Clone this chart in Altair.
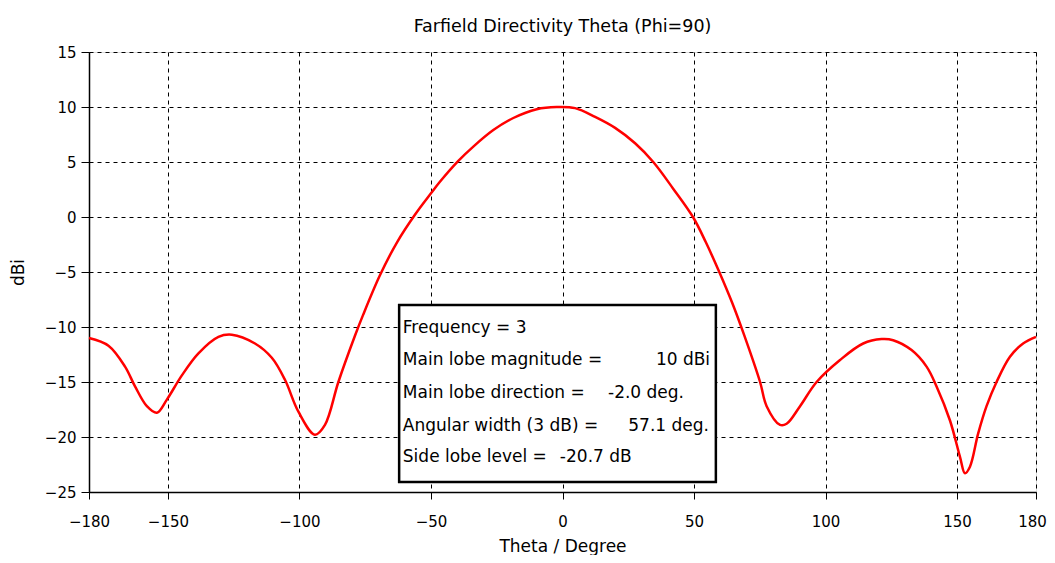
import altair as alt
import pandas as pd

# Curve samples (theta in degrees, directivity in dBi)
theta = [-180, -172.6, -166.3, -162.5, -158.0, -154.2, -150.4, -144.7, -138.4, -130.8, -125.7,
         -116.9, -110.5, -105.5, -100.4, -94.1, -90.3, -85.2, -78.9, -75.8, -69.4, -62.9, -56.1,
         -50.0, -46.6, -39.6, -33.9, -26.3, -18.7, -9.8, -2.2, 4.8, 12.4, 20.0, 27.6, 34.5, 42.0,
         49.6, 54.5, 59.6, 64.5, 69.0, 75.1, 77.6, 82.7, 85.2, 90.3, 96.6, 105.5, 114.3, 121.3,
         125.7, 132.7, 138.4, 142.2, 147.3, 151.1, 153.0, 154.9, 158.0, 161.2, 165.0, 170.1,
         175.1, 180]
dbi = [-11.0, -11.7, -13.6, -15.4, -17.2, -17.8, -16.6, -14.4, -12.4, -10.9, -10.7,
       -11.5, -12.8, -14.8, -17.7, -19.8, -18.9, -15.0, -10.8, -8.9, -5.3, -2.3, 0.2,
       2.15, 3.2, 5.1, 6.4, 7.9, 9.0, 9.8, 10.0, 9.9, 9.1, 8.1, 6.7, 5.0, 2.6,
       0.0, -2.3, -5.0, -7.8, -10.7, -15.0, -17.2, -18.9, -18.8, -17.2, -15.0, -13.0, -11.5, -11.1,
       -11.2, -12.1, -13.6, -15.4, -18.5, -21.8, -23.3, -22.7, -19.7, -17.2, -15.0, -12.7,
       -11.5, -10.9]

x_ticks = [-180, -150, -100, -50, 0, 50, 100, 150, 180]
y_ticks = [15, 10, 5, 0, -5, -10, -15, -20, -25]

info_labels = ["Frequency = 3", "Main lobe magnitude =", "Main lobe direction =",
               "Angular width (3 dB) =", "Side lobe level ="]
info_values = ["", "10 dBi", "-2.0 deg.", "57.1 deg.", "-20.7 dB"]
info_rows_y = [-10.1, -13.0, -16.0, -19.0, -21.8]
info_label_x = [-60.7, -60.7, -60.7, -60.7, -60.7]
info_value_x = [35.5, 35.5, 17.3, 25.0, -1.0]
box = {"x": [-62.1], "x2": [58.3], "y": [-8.0], "y2": [-24.1]}

FONT = "DejaVu Sans"

curve_df = pd.DataFrame({"theta": theta, "dbi": dbi})
lab_df = pd.DataFrame({"x": info_label_x, "y": info_rows_y, "t": info_labels})
val_df = pd.DataFrame({"x": info_value_x, "y": info_rows_y, "t": info_values})
box_df = pd.DataFrame(box)

xscale = alt.Scale(domain=[-180, 180], nice=False, zero=False)
yscale = alt.Scale(domain=[-25, 15], nice=False, zero=False)

xaxis = alt.Axis(values=x_ticks, title="Theta / Degree", grid=True, gridDash=[4, 4],
                 gridColor="black", gridOpacity=1, gridWidth=1,
                 domainColor="black", domainWidth=1.5, tickColor="black", tickSize=7,
                 labelFont=FONT, labelFontSize=15, labelColor="black", labelPadding=15,
                 labelOffset={"condition": {"test": "datum.value == 180", "value": -4}, "value": 0},
                 titleFont=FONT, titleFontSize=17, titleFontWeight="normal", titleColor="black",
                 titlePadding=9, labelFlush=False)
yaxis = alt.Axis(values=y_ticks, title="dBi", grid=True, gridDash=[4, 4],
                 gridColor="black", gridOpacity=1, gridWidth=1,
                 domainColor="black", domainWidth=1.5, tickColor="black", tickSize=8,
                 labelFont=FONT, labelFontSize=15, labelColor="black", labelPadding=5,
                 titleFont=FONT, titleFontSize=17, titleFontWeight="normal", titleColor="black",
                 titlePadding=17, labelFlush=False)

line = alt.Chart(curve_df).mark_line(color="#ff0000", strokeWidth=2.5,
                                     interpolate="catmull-rom").encode(
    x=alt.X("theta:Q", scale=xscale, axis=xaxis),
    y=alt.Y("dbi:Q", scale=yscale, axis=yaxis),
)

rect = alt.Chart(box_df).mark_rect(fill="white", stroke="black", strokeWidth=2.5).encode(
    x=alt.X("x:Q", scale=xscale), x2="x2:Q",
    y=alt.Y("y:Q", scale=yscale), y2="y2:Q",
)

labels = alt.Chart(lab_df).mark_text(align="left", baseline="middle", font=FONT, fontSize=17,
                                     color="black").encode(
    x=alt.X("x:Q", scale=xscale), y=alt.Y("y:Q", scale=yscale), text="t:N")
values = alt.Chart(val_df).mark_text(align="left", baseline="middle", font=FONT, fontSize=17,
                                     color="black").encode(
    x=alt.X("x:Q", scale=xscale), y=alt.Y("y:Q", scale=yscale), text="t:N")

chart = alt.layer(line, rect, labels, values).properties(
    width=947, height=440,
    title=alt.TitleParams("Farfield Directivity Theta (Phi=90)", font=FONT, fontSize=17.5,
                          fontWeight="normal", color="black", offset=10),
    autosize=alt.AutoSizeParams(type="none"),
    padding={"left": 81, "top": 44, "right": 11, "bottom": 63},
).configure_view(stroke="black", strokeWidth=1.5).configure(background="white")

chart.save("out.html", embed_options={"renderer": "svg", "actions": False})
